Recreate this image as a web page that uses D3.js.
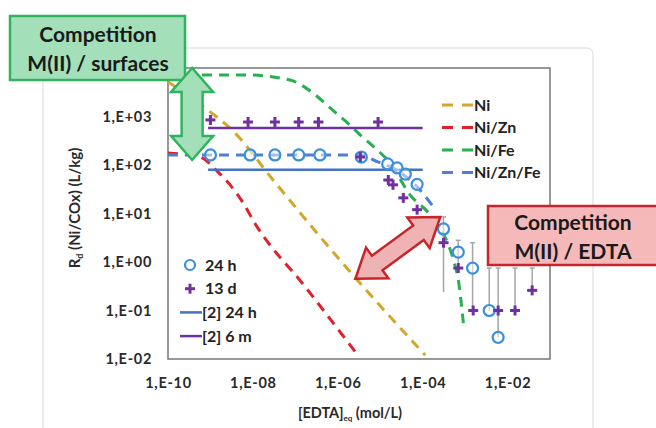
<!DOCTYPE html>
<html><head><meta charset="utf-8">
<script src="https://cdn.jsdelivr.net/npm/d3@7"></script>
<style>body{margin:0;background:#fff;} svg{display:block;font-family:Lato,"Open Sans",sans-serif;}</style>
</head><body><svg id="c" width="656" height="428"></svg>
<script>
// ---- data ----
const xTicks = [1e-10, 1e-8, 1e-6, 1e-4, 1e-2];
const yTicks = [1e-2, 1e-1, 1e0, 1e1, 1e2, 1e3];
const ni     = [[1e-10,5200],[5.1e-10,1900],[3.8e-9,457],[3.0e-8,49],[2.6e-6,0.47],[1.15e-4,0.012]];
const niZn   = [[1e-10,177],[5.7e-10,146],[1.5e-9,72],[3.2e-9,35],[5.9e-9,16.5],[1.1e-8,6.4],[1.7e-7,0.31],[2.6e-6,0.014]];
const niFe   = [[1e-10,7200],[6.8e-9,7200],[7.5e-8,5640],[2.6e-7,3050],[6.6e-7,1500],[1.7e-6,735],[3.4e-6,415],[8.5e-6,204],[1.5e-5,126],[5.1e-5,24],[1.7e-4,8.1],[5.3e-4,1.1],[6.9e-4,0.43],[9.1e-4,0.055]];
const niZnFe = [[1e-10,161],[3.4e-6,161],[8.5e-6,117],[2.3e-5,80],[6.7e-5,39],[1.8e-4,13.6]];
const lit24h = [[8.8e-10,80],[1e-4,80]];
const lit6m  = [[8.8e-10,580],[1e-4,580]];
const obs24h = [[1e-9,161],[8.6e-9,161],[3.3e-8,161],[1.2e-7,161],[3.8e-7,161],[3.6e-6,146],[1.5e-5,105],[2.5e-5,87],[3.9e-5,65],[7.4e-5,40],[3.1e-4,4.8],[6.9e-4,1.6],[1.5e-3,0.75],[3.7e-3,0.10],[6.0e-3,0.028]];
const obs13d = [[1e-9,850],[7.7e-9,770],[3.3e-8,770],[1.2e-7,770],[3.5e-7,770],[3.4e-6,146],[8.9e-6,770],[1.55e-5,49],[2.0e-5,39],[3.5e-5,21],[7.4e-5,12],[3.1e-4,2.5],[6.9e-4,0.75],[1.55e-3,0.10],[6.0e-3,0.10],[1.5e-2,0.10],[3.8e-2,0.26]];
const errBars = [[3.1e-4,0.24,8.5],[6.9e-4,0.75,2.8],[1.5e-3,0.10,2.5],[3.7e-3,0.10,0.75],[6.0e-3,0.028,0.75],[1.5e-2,0.10,0.75],[3.8e-2,0.26,0.75]];
const modelNames = ["Ni","Ni/Zn","Ni/Fe","Ni/Zn/Fe"];
const modelColors = ["#d4a62a","#e0202a","#27b050","#4f7fd2"];
const obsNames = ["24 h","13 d","[2] 24 h","[2] 6 m"];
const annotSurf = [[3.7e-10,1e4],[3.7e-10,127]];
const annotEdta = [[2.6e-6,0.45],[2.6e-4,8.5]];

// ---- layout ----
const svg = d3.select("#c");
const L = 168, R = 550, T = 68, B = 359;
const x = d3.scaleLog().domain([1e-10, 1e-1]).range([L, R]);
const y = d3.scaleLog().domain([1e-2, 1e4]).range([B, T]);
const fmt = v => { const e = Math.round(Math.log10(v)); return "1,E" + (e < 0 ? "-" : "+") + String(Math.abs(e)).padStart(2, "0"); };

// outer chart border
svg.append("rect").attr("x",43).attr("y",48).attr("width",550).attr("height",400).attr("rx",6)
  .attr("fill","#fff").attr("stroke","#d9d9d9").attr("stroke-width",1);

// axes (labels only)
const gx = svg.append("g").attr("transform",`translate(0,${B})`)
  .call(d3.axisBottom(x).tickValues(xTicks).tickFormat(fmt).tickSize(0).tickPadding(19));
const gy = svg.append("g").attr("transform",`translate(${L},0)`)
  .call(d3.axisLeft(y).tickValues(yTicks).tickFormat(fmt).tickSize(0).tickPadding(16));
[gx, gy].forEach(g => {
  g.select(".domain").remove();
  g.selectAll("text").attr("font-size",14.5).attr("font-weight",700).attr("fill","#2a2a2a")
    .attr("font-family","Lato, sans-serif").attr("letter-spacing","0.7px");
});

// plot frame
svg.append("rect").attr("x",L).attr("y",T).attr("width",R-L).attr("height",B-T)
  .attr("fill","none").attr("stroke","#7f7f7f").attr("stroke-width",1.6);

const line = d3.line().x(d => x(d[0])).y(d => y(d[1])).curve(d3.curveMonotoneX);
const plot = svg.append("g");
[ni, niZn, niFe, niZnFe].forEach((s, i) => {
  plot.append("path").datum(s).attr("d", line).attr("fill","none")
    .attr("stroke", modelColors[i]).attr("stroke-width",3).attr("stroke-dasharray","10,7");
});
plot.append("path").datum(lit24h).attr("d", line).attr("fill","none").attr("stroke","#4472c4").attr("stroke-width",2.5);
plot.append("path").datum(lit6m).attr("d", line).attr("fill","none").attr("stroke","#7030a0").attr("stroke-width",2.5);

// error bars
plot.selectAll(".eb").data(errBars).join("g").each(function(d){
  const g = d3.select(this), cx = x(d[0]);
  g.append("line").attr("x1",cx).attr("x2",cx).attr("y1",y(d[1])).attr("y2",y(d[2])).attr("stroke","#a6a6a6").attr("stroke-width",1.5);
  g.append("line").attr("x1",cx-2.5).attr("x2",cx+2.5).attr("y1",y(d[2])).attr("y2",y(d[2])).attr("stroke","#a6a6a6").attr("stroke-width",1.5);
});

// markers
plot.selectAll(".c24").data(obs24h).join("circle").attr("cx",d=>x(d[0])).attr("cy",d=>y(d[1])).attr("r",5.5)
  .attr("fill","rgba(255,255,255,0.5)").attr("stroke","#3b8fdc").attr("stroke-width",2.2);
const cross = (g, cx, cy, s) => {
  g.append("line").attr("x1",cx-s).attr("x2",cx+s).attr("y1",cy).attr("y2",cy).attr("stroke","#7030a0").attr("stroke-width",3);
  g.append("line").attr("x1",cx).attr("x2",cx).attr("y1",cy-s).attr("y2",cy+s).attr("stroke","#7030a0").attr("stroke-width",3);
};
plot.selectAll(".p13").data(obs13d).join("g").each(function(d){ cross(d3.select(this), x(d[0]), y(d[1]), 5); });

// legend: models
const lg = svg.append("g");
modelNames.forEach((n, i) => {
  const yy = 105 + i * 22.5;
  lg.append("line").attr("x1",442).attr("x2",473).attr("y1",yy).attr("y2",yy)
    .attr("stroke",modelColors[i]).attr("stroke-width",3).attr("stroke-dasharray","11,9");
  lg.append("text").attr("x",474).attr("y",yy).attr("dy","0.35em").attr("font-size",16).attr("font-weight",700).attr("fill","#222").text(n);
});
// legend: observations
const lo = svg.append("g");
obsNames.forEach((n, i) => {
  const yy = 265 + i * 23.7;
  if (i === 0) lo.append("circle").attr("cx",190).attr("cy",yy).attr("r",5).attr("fill","none").attr("stroke","#3b8fdc").attr("stroke-width",2.2);
  if (i === 1) cross(lo, 190, yy, 5);
  if (i === 2) lo.append("line").attr("x1",180).attr("x2",202).attr("y1",yy).attr("y2",yy).attr("stroke","#4472c4").attr("stroke-width",2.5);
  if (i === 3) lo.append("line").attr("x1",180).attr("x2",202).attr("y1",yy).attr("y2",yy).attr("stroke","#7030a0").attr("stroke-width",2.5);
  lo.append("text").attr("x",i < 2 ? 205 : 202).attr("y",yy).attr("dy","0.35em").attr("font-size",16).attr("font-weight",700).attr("fill","#222").text(n);
});

// axis titles
const yt = svg.append("text").attr("transform","translate(80,208) rotate(-90)").attr("text-anchor","middle")
  .attr("font-size",15).attr("font-weight",700).attr("fill","#2a2a2a");
yt.append("tspan").text("R");
yt.append("tspan").attr("font-size",9).attr("dy",3).text("d");
yt.append("tspan").attr("dy",-3).text(" (Ni/COx) (L/kg)");
const xt = svg.append("text").attr("x",350).attr("y",418).attr("text-anchor","middle")
  .attr("font-size",14.5).attr("font-weight",700).attr("fill","#2a2a2a");
xt.append("tspan").text("[EDTA]");
xt.append("tspan").attr("font-size",8).attr("dy",3).text("eq");
xt.append("tspan").attr("dy",-3).text(" (mol/L)");

// annotation boxes
function box(x0, y0, w, h, fill, stroke, lines, cx, ys) {
  svg.append("rect").attr("x",x0).attr("y",y0).attr("width",w).attr("height",h)
    .attr("fill",fill).attr("stroke",stroke).attr("stroke-width",2.5);
  lines.forEach((t, i) => svg.append("text").attr("x",cx).attr("y",ys[i]).attr("dy","0.35em")
    .attr("text-anchor","middle").attr("font-size",21).attr("font-weight",700).attr("fill","#1a1a1a").text(t));
}
box(10, 16, 175, 64, "#a3dfb9", "#2fb35e", ["Competition", "M(II) / surfaces"], 98, [35, 64]);
box(488, 206, 180, 59, "#f5b9b9", "#c8252b", ["Competition", "M(II) / EDTA"], 573, [223, 252]);

// arrows
function dblArrow(a, b, w, h, len, fill, stroke) {
  const ax = x(a[0]), ay = y(a[1]), bx = x(b[0]), by = y(b[1]);
  const dx = bx - ax, dy = by - ay, d = Math.hypot(dx, dy), ux = dx / d, uy = dy / d, nx = -uy, ny = ux;
  const P = (px, py, t, s) => [px + ux * t + nx * s, py + uy * t + ny * s];
  const pts = [[ax, ay], P(ax,ay,len,h), P(ax,ay,len,w), P(bx,by,-len,w), P(bx,by,-len,h), [bx, by],
    P(bx,by,-len,-h), P(bx,by,-len,-w), P(ax,ay,len,-w), P(ax,ay,len,-h)];
  svg.append("polygon").attr("points", pts.map(p => p.join(",")).join(" "))
    .attr("fill", fill).attr("stroke", stroke).attr("stroke-width", 2.5).attr("stroke-linejoin","miter");
}
dblArrow(annotSurf[0], annotSurf[1], 10.5, 21, 24, "#a3dfb9", "#2fb35e");
dblArrow(annotEdta[0], annotEdta[1], 9, 19, 27, "#f0b3b3", "#c8252b");
</script></body></html>
